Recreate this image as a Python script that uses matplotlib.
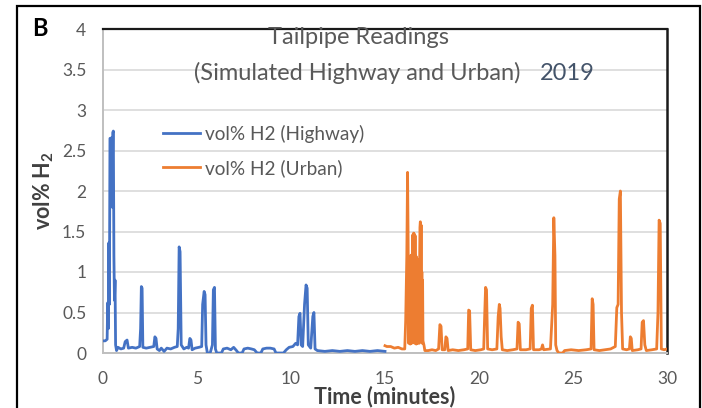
import matplotlib
matplotlib.use("Agg")
import matplotlib.pyplot as plt
from matplotlib.patches import Rectangle

plt.rcParams['font.family'] = ['Lato', 'DejaVu Sans']
plt.rcParams['mathtext.fontset'] = 'custom'
plt.rcParams['mathtext.rm'] = 'Lato'
plt.rcParams['mathtext.bf'] = 'Lato:bold'
# keep every sample of the dense sensor bursts
plt.rcParams['path.simplify'] = False

# Highway run (minutes, vol% H2)
hw_time = [0.00, 0.12, 0.22, 0.25, 0.28, 0.31, 0.34, 0.37, 0.42, 0.46, 0.49, 0.52, 0.55,
           0.58, 0.61, 0.64, 0.67, 0.72, 0.80, 0.95, 1.10, 1.18, 1.28, 1.35, 1.55, 1.75,
           1.95, 2.00, 2.04, 2.08, 2.12, 2.30, 2.50, 2.70, 2.76, 2.82, 2.88, 3.00, 3.10,
           3.25, 3.40, 3.60, 3.80, 3.95, 4.00, 4.05, 4.10, 4.16, 4.30, 4.45, 4.55, 4.62,
           4.68, 4.74, 4.90, 5.10, 5.25, 5.30, 5.38, 5.43, 5.48, 5.55, 5.70, 5.82, 5.87,
           5.93, 5.98, 6.05, 6.30, 6.40, 6.60, 6.80, 6.95, 7.10, 7.20, 7.40, 7.50, 7.70,
           7.90, 8.05, 8.20, 8.40, 8.50, 8.70, 8.90, 9.10, 9.20, 9.60, 9.75, 9.90, 10.10,
           10.25, 10.35, 10.42, 10.48, 10.54, 10.62, 10.72, 10.80, 10.86, 10.92, 11.05,
           11.16, 11.22, 11.28, 11.40, 11.80, 12.20, 12.60, 13.00, 13.40, 13.80, 14.20,
           14.60, 15.00]
hw_h2 = [0.15, 0.15, 0.17, 0.62, 0.30, 1.36, 0.60, 2.65, 2.64, 2.66, 1.80, 2.72, 2.74,
         1.20, 0.65, 0.90, 0.10, 0.03, 0.07, 0.05, 0.06, 0.14, 0.16, 0.06, 0.07, 0.06,
         0.08, 0.30, 0.82, 0.80, 0.07, 0.06, 0.07, 0.08, 0.20, 0.18, 0.05, 0.03, 0.06,
         0.02, 0.06, 0.05, 0.07, 0.08, 0.30, 1.31, 1.25, 0.10, 0.05, 0.07, 0.06, 0.18,
         0.16, 0.04, 0.06, 0.07, 0.08, 0.60, 0.76, 0.72, 0.10, 0.00, 0.00, 0.10, 0.78,
         0.81, 0.05, 0.00, 0.00, 0.05, 0.06, 0.04, 0.07, 0.03, 0.00, 0.00, 0.05, 0.06,
         0.05, 0.04, 0.00, 0.00, 0.05, 0.06, 0.06, 0.05, 0.00, 0.00, 0.04, 0.07, 0.08,
         0.12, 0.10, 0.45, 0.49, 0.10, 0.08, 0.60, 0.84, 0.80, 0.10, 0.06,
         0.45, 0.50, 0.05, 0.03, 0.02, 0.03, 0.02, 0.03, 0.02, 0.03, 0.02,
         0.03, 0.02]

# Urban run (minutes, vol% H2)
ub_time = [15.00, 15.10, 15.30, 15.50, 15.70, 15.90, 16.05, 16.10, 16.16, 16.20, 16.23,
           16.26, 16.28, 16.30, 16.32, 16.34, 16.36, 16.38, 16.40, 16.42, 16.44,
           16.46, 16.48, 16.50, 16.52, 16.54, 16.56, 16.58, 16.60, 16.62, 16.64,
           16.66, 16.68, 16.70, 16.72, 16.74, 16.76, 16.78, 16.80, 16.82, 16.84,
           16.86, 16.88, 16.90, 16.92, 16.94, 16.96, 16.98, 17.00, 17.02,
           17.07, 17.12, 17.30, 17.50, 17.70, 17.85, 17.92, 17.98, 18.04,
           18.18, 18.24, 18.30, 18.36, 18.60, 18.90, 19.20, 19.40, 19.45, 19.50, 19.56,
           19.80, 20.10, 20.25, 20.30, 20.35, 20.40, 20.46, 20.70, 20.95, 21.02, 21.08,
           21.12, 21.18, 21.24, 21.50, 21.80, 22.02, 22.08, 22.14, 22.20, 22.50, 22.72,
           22.78, 22.84, 22.90, 23.20, 23.32, 23.38, 23.44, 23.80, 23.92, 23.98, 24.04,
           24.08, 24.15, 24.25, 24.45, 24.55, 24.90, 25.30, 25.70, 25.96, 26.02, 26.07,
           26.12, 26.40, 26.70, 27.00, 27.25, 27.33, 27.40, 27.46, 27.52, 27.58, 27.64,
           27.85, 28.00, 28.05, 28.10, 28.15, 28.45, 28.62, 28.68, 28.75, 28.82, 28.90,
           29.20, 29.45, 29.52, 29.58, 29.64, 29.70, 29.85, 30.00]
ub_h2 = [0.09, 0.08, 0.08, 0.06, 0.07, 0.05, 0.05, 0.40, 1.20, 2.23, 1.40,
         0.12, 1.19, 0.15, 1.18, 0.11, 1.20, 0.14, 1.19, 0.12, 1.22,
         0.15, 1.46, 0.13, 1.48, 0.16, 1.47, 0.12, 1.45, 0.14, 1.20,
         0.11, 1.18, 0.15, 1.16, 0.12, 1.15, 0.14, 1.12, 0.12, 1.10,
         1.55, 1.62, 0.40, 1.58, 0.15, 1.00, 0.12, 0.90, 0.15,
         0.10, 0.03, 0.03, 0.04, 0.03, 0.05, 0.35, 0.33, 0.04,
         0.04, 0.20, 0.18, 0.03, 0.04, 0.03, 0.04, 0.05, 0.53, 0.52, 0.04,
         0.03, 0.04, 0.05, 0.45, 0.81, 0.78, 0.05, 0.04, 0.05, 0.45, 0.60,
         0.55, 0.20, 0.04, 0.03, 0.04, 0.05, 0.38, 0.36, 0.04, 0.04, 0.05,
         0.55, 0.59, 0.04, 0.04, 0.05, 0.10, 0.04, 0.05, 0.60, 1.67, 1.20,
         0.10, 0.03, 0.00, 0.00, 0.03, 0.04, 0.03, 0.04, 0.05, 0.67, 0.60,
         0.04, 0.03, 0.04, 0.05, 0.08, 0.56, 0.60, 1.90, 2.00, 0.50, 0.05,
         0.04, 0.05, 0.20, 0.18, 0.03, 0.04, 0.05, 0.38, 0.40, 0.10, 0.03,
         0.04, 0.05, 0.50, 1.64, 1.60, 0.05, 0.04, 0.05]

x_ticks = [0, 5, 10, 15, 20, 25, 30]
y_ticks = [0, 0.5, 1, 1.5, 2, 2.5, 3, 3.5, 4]
y_tick_labels = ['0', '0.5', '1', '1.5', '2', '2.5', '3', '3.5', '4']

BLUE = '#4472C4'
ORANGE = '#ED7D31'
GRAY_TXT = '#595959'

W, H = 702, 408
fig = plt.figure(figsize=(W / 100, H / 100), dpi=100)
ax = fig.add_axes([103 / W, 1 - 353 / H, (667 - 103) / W, (353 - 29) / H])

ax.plot(hw_time, hw_h2, color=BLUE, lw=2.0, solid_joinstyle='round',
        label='vol% H2 (Highway)', zorder=3)
ax.plot(ub_time, ub_h2, color=ORANGE, lw=2.0, solid_joinstyle='round',
        label='vol% H2 (Urban)', zorder=4)

ax.set_xlim(0, 30)
ax.set_ylim(0, 4)
ax.set_xticks(x_ticks)
ax.set_yticks(y_ticks)
ax.set_yticklabels(y_tick_labels)
ax.tick_params(axis='both', length=0, labelsize=12.5, labelcolor=GRAY_TXT)
ax.tick_params(axis='x', pad=13)
ax.tick_params(axis='y', pad=12)
ax.grid(axis='y', color='#D9D9D9', lw=1.2, zorder=0)
ax.set_axisbelow(True)

ax.spines['left'].set_color('#BFBFBF')
ax.spines['left'].set_linewidth(1.4)
ax.spines['bottom'].set_color('#BFBFBF')
ax.spines['bottom'].set_linewidth(1.4)
ax.spines['top'].set_color('#1a1a1a')
ax.spines['top'].set_linewidth(1.6)
ax.spines['right'].set_color('#1a1a1a')
ax.spines['right'].set_linewidth(1.8)

ax.set_xlabel('Time (minutes)', fontsize=15.5, fontweight='bold', color='#404040', labelpad=-1)
ax.set_ylabel(r'vol% $\mathbf{H_2}$', fontsize=15.5, fontweight='bold', color='#404040',
              labelpad=4)

# Chart title
fig.text(359 / W, 1 - 38 / H, 'Tailpipe Readings', ha='center', va='center',
         fontsize=17, color=GRAY_TXT)
fig.text(357 / W, 1 - 73 / H, '(Simulated Highway and Urban)', ha='center', va='center',
         fontsize=17, color=GRAY_TXT)
fig.text(540 / W, 1 - 73 / H, '2019', ha='left', va='center',
         fontsize=17, color='#44546A')

# Panel letter
fig.text(40 / W, 1 - 28 / H, 'B', ha='center', va='center', fontsize=17,
         fontweight='bold', color='black')

leg = ax.legend(loc='upper left', bbox_to_anchor=((163 - 103) / 564, (353 - 125) / 324),
                frameon=False, fontsize=13.7, handlelength=1.95, handletextpad=0.25,
                labelspacing=0.85, borderpad=0, borderaxespad=0)
for t in leg.get_texts():
    t.set_color(GRAY_TXT)

# Outer panel frame
fig.patches.append(Rectangle((17 / W, -0.05), (700 - 17) / W, 1.05 - 6 / H,
                             transform=fig.transFigure, fill=False,
                             edgecolor='black', lw=1.6))

fig.savefig('out.png', dpi=100)
